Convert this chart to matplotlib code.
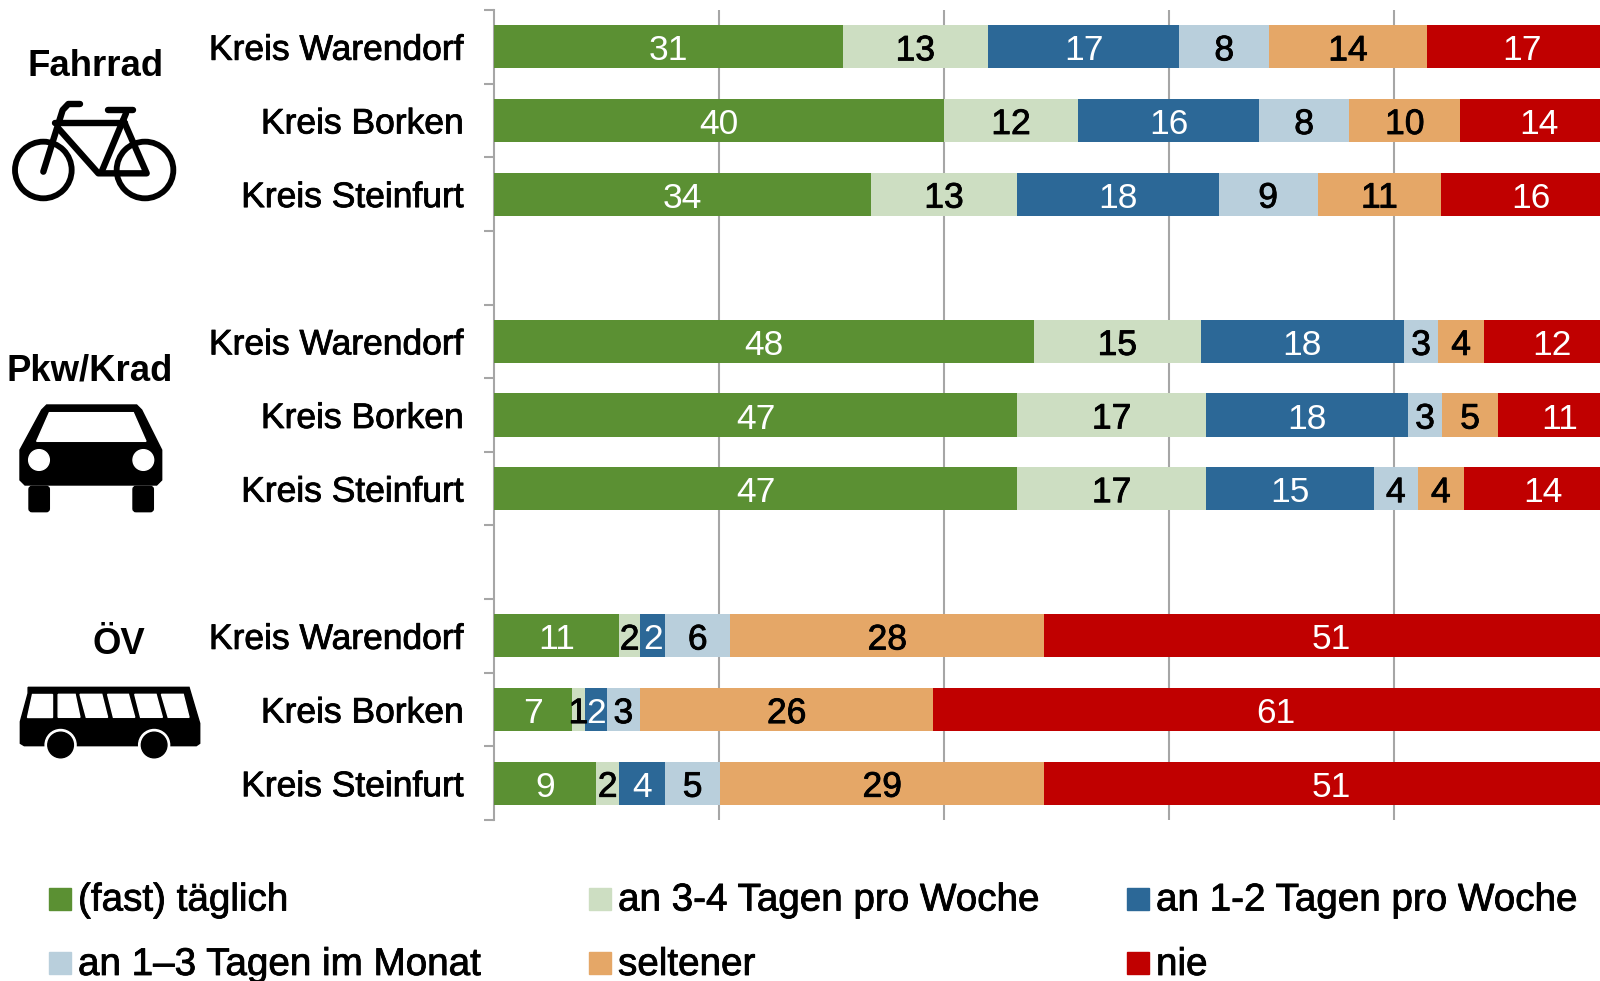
import numpy as np
import matplotlib
matplotlib.use('Agg')
import matplotlib.pyplot as plt
import matplotlib.patheffects as pe
from matplotlib.patches import Circle, Polygon, Rectangle, FancyBboxPatch

plt.rcParams['font.family'] = ['Liberation Sans', 'DejaVu Sans']

row_names = ['Kreis Warendorf', 'Kreis Borken', 'Kreis Steinfurt']
groups = ['Fahrrad', 'Pkw/Krad', 'ÖV']
categories = ['(fast) täglich', 'an 3-4 Tagen pro Woche', 'an 1-2 Tagen pro Woche',
              'an 1–3 Tagen im Monat', 'seltener', 'nie']
colors = ['#5B9033', '#CDDEC2', '#2C6897', '#B9CFDC', '#E5A767', '#C00000']
label_colors = ['white', 'black', 'white', 'black', 'black', 'white']

# bar lengths as measured, the printed numbers are rounded
taeglich = [31.0, 40.0, 33.5, 48.0, 46.5, 46.5, 11.1, 6.9, 9.1]
tage_3_4 = [12.9, 11.9, 13.0, 14.8, 16.8, 16.8, 1.9, 1.2, 2.0]
tage_1_2 = [17.0, 16.1, 17.9, 18.1, 17.9, 14.9, 2.2, 1.9, 4.1]
monat = [8.0, 8.0, 8.8, 3.0, 3.1, 3.9, 5.8, 3.0, 4.9]
seltener = [14.0, 9.9, 11.0, 4.1, 4.9, 4.1, 27.9, 26.0, 28.8]
nie = [17.0, 14.0, 16.0, 12.0, 11.0, 14.0, 51.0, 61.0, 51.0]

labels_taeglich = [31, 40, 34, 48, 47, 47, 11, 7, 9]
labels_3_4 = [13, 12, 13, 15, 17, 17, 2, 1, 2]
labels_1_2 = [17, 16, 18, 18, 18, 15, 2, 2, 4]
labels_monat = [8, 8, 9, 3, 3, 4, 6, 3, 5]
labels_seltener = [14, 10, 11, 4, 5, 4, 28, 26, 29]
labels_nie = [17, 14, 16, 12, 11, 14, 51, 61, 51]

series = [taeglich, tage_3_4, tage_1_2, monat, seltener, nie]
series_labels = [labels_taeglich, labels_3_4, labels_1_2, labels_monat, labels_seltener, labels_nie]
y_pos = [0.5, 1.5, 2.5, 4.5, 5.5, 6.5, 8.5, 9.5, 10.5]

W, H = 1600, 981
heavy = [pe.withStroke(linewidth=0.6, foreground='black')]

fig = plt.figure(figsize=(W / 100, H / 100), dpi=100)
ax = fig.add_axes([494 / W, 1 - 820 / H, (W - 494) / W, (820 - 10) / H])

left = np.zeros(len(y_pos))
for vals, labs, col, lab_col in zip(series, series_labels, colors, label_colors):
    vals = np.array(vals)
    ax.barh(y_pos, vals, left=left, height=0.585, color=col, zorder=3)
    for y, l, v, t in zip(y_pos, left, vals, labs):
        x = l + v / 2
        if x < 98.3:
            txt = ax.text(x, y + 0.055, str(t), color=lab_col, ha='center', va='center', fontsize=25.5, zorder=4)
            if lab_col == 'black':
                txt.set_path_effects(heavy)
    left += vals

ax.set_xlim(0, 98.3)
ax.set_ylim(11, 0)
ax.set_xticks([20, 40, 60, 80])
ax.set_xticklabels([])
ax.tick_params(axis='x', length=0)
ax.grid(axis='x', color='#A6A6A6', lw=1.5, zorder=1)
ax.set_yticks(np.arange(12))
ax.set_yticklabels([])
ax.tick_params(axis='y', which='major', length=7, width=1.5, color='#A6A6A6')
ax.set_yticks(y_pos, minor=True)
ax.set_yticklabels(row_names * 3, minor=True, fontsize=25.5, path_effects=heavy)
ax.tick_params(axis='y', which='minor', length=0, pad=22)
for s in ['top', 'right', 'bottom']:
    ax.spines[s].set_visible(False)
ax.spines['left'].set_color('#A6A6A6')
ax.spines['left'].set_linewidth(1.5)
ax.patch.set_alpha(0)

# overlay in pixel coordinates for the icons, group names and legend
ov = fig.add_axes([0, 0, 1, 1])
ov.set_xlim(0, W)
ov.set_ylim(H, 0)
ov.axis('off')
ov.patch.set_alpha(0)

ov.text(96, 66, groups[0], fontsize=26.3, fontweight='bold', ha='center', va='center')
ov.text(90, 371, groups[1], fontsize=26.3, fontweight='bold', ha='center', va='center')
ov.text(119, 644, groups[2], fontsize=26.3, fontweight='bold', ha='center', va='center')

# bicycle
def bike_line(xs, ys, lw=4.6):
    ov.plot(np.array(xs) / 3, np.array(ys) / 3, color='black', lw=lw, solid_capstyle='round', solid_joinstyle='round')

for cx in [130, 435]:
    ov.add_patch(Circle((cx / 3, 510 / 3), 85 / 3, fill=False, ec='black', lw=4.2))
bike_line([240, 205, 188, 130], [312, 312, 330, 515])
bike_line([165, 375], [368, 368])
bike_line([175, 295, 440, 370], [385, 520, 520, 360])
bike_line([305, 378], [515, 340])
bike_line([325, 400], [330, 330])

# car
def cy(v):
    return [300 + p / 3 for p in v]

car_x = np.array([140, 410, 425, 485, 485, 470, 75, 60, 60, 125]) / 3
car_y = cy([315, 315, 330, 450, 540, 555, 555, 540, 450, 330])
ov.add_patch(Polygon(np.column_stack([car_x, car_y]), color='black'))
win_x = np.array([148, 400, 438, 110]) / 3
win_y = cy([338, 338, 424, 424])
ov.add_patch(Polygon(np.column_stack([win_x, win_y]), color='white'))
for cx in [117, 430]:
    ov.add_patch(Circle((cx / 3, 300 + 480 / 3), 31 / 3, color='white'))
for lx in [87, 399]:
    ov.add_patch(FancyBboxPatch((lx / 3 + 2, 300 + 565 / 3), 61 / 3 - 4, 70 / 3 - 2,
                                boxstyle='round,pad=2,rounding_size=3', color='black'))

# bus, crop was 2.063x wide and 3x high
zx, zy = 2.063, 3
bus_x = np.array([58, 390, 412, 412, 405, 50, 42, 42, 58]) / zx
bus_y = 590 + np.array([292, 292, 400, 460, 467, 467, 460, 395, 310]) / zy
ov.add_patch(Polygon(np.column_stack([bus_x, bus_y]), color='black'))
windows = [([65, 108, 108, 55], [313, 313, 382, 382]),
           ([120, 155, 165, 120], [313, 313, 382, 382]),
           ([165, 210, 222, 178], [313, 313, 382, 382]),
           ([222, 265, 278, 234], [313, 313, 382, 382]),
           ([278, 322, 335, 290], [313, 313, 382, 382]),
           ([333, 378, 390, 347], [313, 313, 382, 382])]
for wx, wy in windows:
    ov.add_patch(Polygon(np.column_stack([np.array(wx) / zx, 590 + np.array(wy) / zy]), color='white'))
for cx in [125, 318]:
    ov.add_patch(Circle((cx / zx, 590 + 465 / zy), 15.5, color='white'))
    ov.add_patch(Circle((cx / zx, 590 + 465 / zy), 12.8, color='black'))

# legend
leg_x = [49, 589, 1127]
leg_y = [898.5, 963]
for i, (name, col) in enumerate(zip(categories, colors)):
    x = leg_x[i % 3]
    y = leg_y[i // 3]
    ov.add_patch(Rectangle((x, y - 11), 22, 22, color=col))
    ov.text(x + 29, y + 2, name, fontsize=27.8, va='center', ha='left', path_effects=heavy)

fig.savefig('out.png', dpi=100)
